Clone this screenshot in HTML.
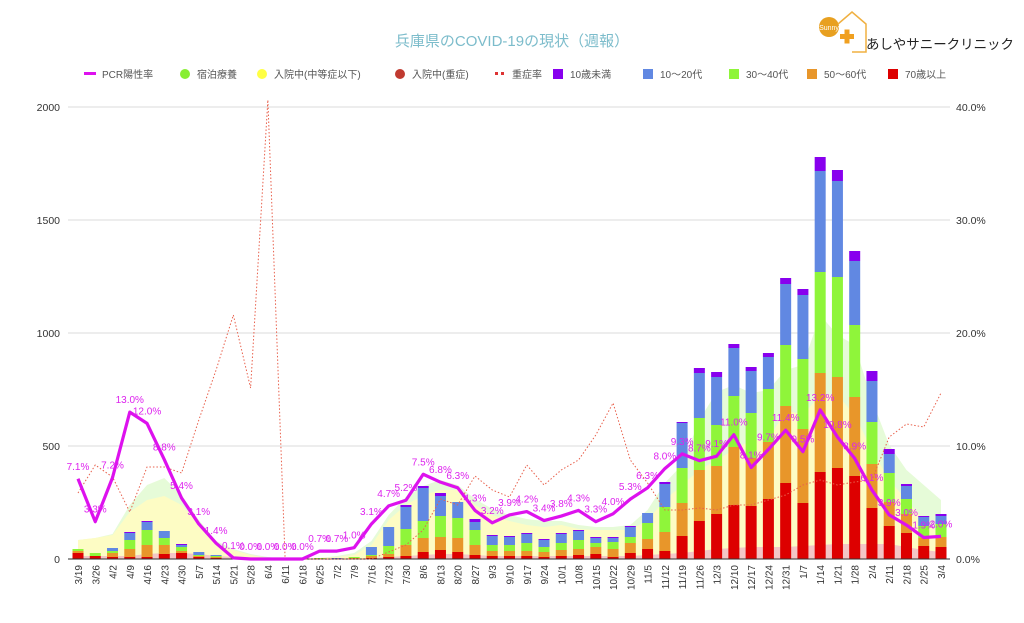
<!DOCTYPE html>
<html><head><meta charset="utf-8"><style>
body{margin:0;background:#fff;width:1024px;height:618px;overflow:hidden;font-family:"Liberation Sans","Noto Sans CJK JP",sans-serif}
</style></head><body>
<svg id="s" width="1024" height="618" xmlns="http://www.w3.org/2000/svg" font-family="Liberation Sans, Noto Sans CJK JP, sans-serif"></svg>
<script>
const S=document.getElementById('s');let h='';
const cats="3/19,3/26,4/2,4/9,4/16,4/23,4/30,5/7,5/14,5/21,5/28,6/4,6/11,6/18,6/25,7/2,7/9,7/16,7/23,7/30,8/6,8/13,8/20,8/27,9/3,9/10,9/17,9/24,10/1,10/8,10/15,10/22,10/29,11/5,11/12,11/19,11/26,12/3,12/10,12/17,12/24,12/31,1/7,1/14,1/21,1/28,2/4,2/11,2/18,2/25,3/4".split(',');
const X=i=>78+i*17.26, B=559;
const bars=[[6,8,10,10,10],[3,3,6,6,6],[2,6,8,11,11],[2,10,19,26,27],[2,14,29,37,38],[5,14,21,28,28],[6,8,12,14,15],[2,3,4,7,7],[1,2,3,4,4],[0,0,0,0,0],[0,0,0,0,0],[0,0,0,0,0],[0,0,0,0,0],[0,0,0,0,0],[0,0,1,1,1],[0,0,0,1,1],[0,1,2,2,2],[1,3,4,12,12],[2,5,13,32,32],[3,14,30,52,54],[7,21,38,71,73],[9,22,43,63,66],[7,21,41,57,57],[4,14,29,37,40],[3,8,14,23,24],[3,8,14,22,23],[3,8,16,25,26],[2,7,12,19,20],[3,9,16,25,26],[4,10,19,28,29],[5,12,16,21,22],[2,10,17,21,22],[6,16,22,32,33],[10,20,36,46,46],[8,27,52,75,77],[23,56,91,136,137],[38,89,141,186,191],[45,93,134,182,187],[54,112,163,211,215],[53,101,146,188,192],[60,117,170,202,206],[76,153,214,275,281],[56,130,200,264,270],[87,186,287,388,402],[91,182,282,378,389],[83,162,234,298,308],[51,95,137,178,188],[33,57,86,105,110],[26,45,60,73,75],[13,21,33,42,43],[12,22,35,43,45]];
const yel=[19,21,24,47,59,63,54,35,14,9,4,1,0,0,1,2,4,14,39,54,64,69,69,54,44,38,34,32,34,30,29,29,29,39,59,74,89,99,109,119,119,149,144,164,164,144,109,79,59,39,24];
const grn=[19,21,25,54,74,81,64,39,18,10,5,2,0,0,1,3,6,18,44,62,73,79,74,60,50,44,40,38,38,34,32,32,34,49,76,94,139,167,174,166,169,189,194,244,224,214,159,114,89,74,59];
const pnk=[3,3,3,3,5,6,6,5,3,2,1,1,0,0,0,0,0,1,2,3,4,5,5,4,3,3,3,3,3,3,3,3,3,4,5,6,8,10,11,12,12,12,13,14,15,15,15,15,12,9,7];
function area(arr,col){let d='M'+X(0)+','+B;arr.slice(0,51).forEach((v,i)=>d+=' L'+X(i)+','+(B-v));d+=' L'+X(50)+','+B+' Z';h+=`<path d="${d}" fill="${col}"/>`;}
[107,220,333,446,559].forEach((y,k)=>{h+=`<line x1="68" x2="950" y1="${y}" y2="${y}" stroke="#e2e2e2" stroke-width="1.2"/>`;
h+=`<text x="60" y="${y+4}" font-size="10.5" fill="#333" text-anchor="end">${[2000,1500,1000,500,0][k]}</text>`;
h+=`<text x="956" y="${y+4}" font-size="10.5" fill="#333">${['40.0%','30.0%','20.0%','10.0%','0.0%'][k]}</text>`;});
area(grn,'#e6fbd8');area(yel,'#fdfcc4');area(pnk,'#f3c6c6');
const cols=['#dd0000','#e8962a','#8ff53a','#6188e2','#8800ee'];
bars.forEach((b,i)=>{let prev=0;for(let k=0;k<5;k++){const t=b[k];if(t>prev){h+=`<rect x="${X(i)-5.5}" y="${B-t}" width="11" height="${t-prev}" fill="${cols[k]}"/>`;}prev=Math.max(prev,t);}});
h+=`<line x1="68" x2="950" y1="559" y2="559" stroke="#333" stroke-width="1"/>`;
const sev=[493,465,477,512,467,467,473,420,370,315,388,100,559,559,559,559,559,559,552,545,530,499,505,476,490,497,465,485,470,460,435,403,460,483,510,510,508,510,505,505,500,495,485,480,485,482,480,437,424,427,393];
h+=`<polyline points="${sev.map((y,i)=>X(i)+','+y).join(' ')}" fill="none" stroke="#e8604c" stroke-width="1" stroke-dasharray="1.5,2"/>`;
const pcr=[7.1,3.3,7.2,13.0,12.0,8.8,5.4,3.1,1.4,0.1,0,0,0,0,0.7,0.7,1.0,3.1,4.7,5.2,7.5,6.8,6.3,4.3,3.2,3.9,4.2,3.4,3.8,4.3,3.3,4.0,5.3,6.3,8.0,9.3,8.7,9.1,11.0,8.1,9.7,11.4,9.5,13.2,10.8,8.9,6.1,3.9,3.0,1.9,2.0];
h+=`<polyline points="${pcr.map((p,i)=>X(i)+','+(B-p*11.3)).join(' ')}" fill="none" stroke="#dd11ee" stroke-width="3.2" stroke-linejoin="round"/>`;
pcr.forEach((p,i)=>{h+=`<text x="${X(i)}" y="${B-p*11.3-9}" font-size="10" fill="#dd22ee" text-anchor="middle">${p.toFixed(1)}%</text>`;});
cats.forEach((c,i)=>{h+=`<text transform="translate(${X(i)+4},565) rotate(-90)" font-size="10" fill="#333" text-anchor="end">${c}</text>`;});
h+=`<text x="512" y="46" font-size="15" fill="#7cbccb" text-anchor="middle">兵庫県のCOVID-19の現状（週報）</text>`;
h+=`<circle cx="829" cy="27" r="10" fill="#e8a020"/><text x="829" y="30" font-size="7" fill="#fff" text-anchor="middle">Sunny</text>
<path d="M838,24 L852,12 L866,24 L866,52 L852,52" fill="none" stroke="#f0b040" stroke-width="1.5"/>
<rect x="840" y="34" width="14" height="5" fill="#f0a020"/><rect x="844.5" y="29.5" width="5" height="14" fill="#f0a020"/>
<text x="866" y="49" font-size="13.5" fill="#222" textLength="148" lengthAdjust="spacingAndGlyphs">あしやサニークリニック</text>`;
const L=[['line','#dd11ee',90,'PCR陽性率'],['dot','#88ee33',185,'宿泊療養'],['dot','#ffff44',262,'入院中(中等症以下)'],['dot','#c03a30',400,'入院中(重症)'],['dash','#dd3333',500,'重症率'],['sq','#8800ee',558,'10歳未満'],['sq','#6188e2',648,'10～20代'],['sq','#8ff53a',734,'30～40代'],['sq','#e8962a',812,'50～60代'],['sq','#dd0000',893,'70歳以上']];
L.forEach(([t,c,x,s])=>{if(t=='line')h+=`<rect x="${x-6}" y="72" width="12" height="3" fill="${c}"/>`;else if(t=='dot')h+=`<circle cx="${x}" cy="74" r="5" fill="${c}"/>`;else if(t=='dash')h+=`<rect x="${x-5}" y="72" width="3" height="3" fill="${c}"/><rect x="${x+1}" y="72" width="3" height="3" fill="${c}"/>`;else h+=`<rect x="${x-5}" y="69" width="10" height="10" fill="${c}"/>`;
h+=`<text x="${x+12}" y="78" font-size="10" fill="#555">${s}</text>`;});
S.innerHTML=h;
</script>
</body></html>
